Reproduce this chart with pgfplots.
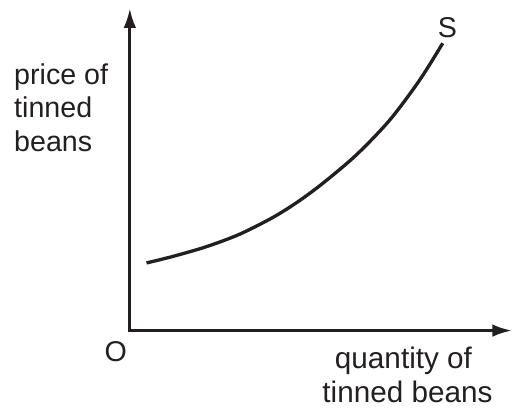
\documentclass[border=0pt]{standalone}
\usepackage{pgfplots}
\pgfplotsset{compat=1.18}
\usepackage{fontspec}
\setmainfont{Liberation Sans}
\usetikzlibrary{arrows.meta}
\definecolor{ink}{HTML}{231F20}
\begin{document}
\begin{tikzpicture}
\begin{axis}[
  x=0.75pt, y=0.75pt,
  scale only axis,
  xmin=0, xmax=383, ymin=0, ymax=323,
  axis lines=left,
  axis line style={-{Latex[length=15pt,width=9.5pt]}, line width=2.5pt, ink, line cap=rect},
  xtick=\empty, ytick=\empty,
  clip=false,
]
\path (axis cs:-130,-83) rectangle (axis cs:384,331);
\addplot[ink, line width=2.5pt, smooth] coordinates {
(16.7,67.7) (43.3,74.3) (76.7,84) (110,96.5) (143.3,113.3) (168.3,129) (193.3,147.5) (226.7,175.8) (260,210.5) (290,250.5) (313.3,287.7)
};
\begin{scope}[text=ink]
\node[font=\fontsize{21.5}{25}\selectfont] at (axis cs:318,303) {S};
\node[font=\fontsize{21.5}{25}\selectfont] at (axis cs:-14,-21) {O};
\node[font=\fontsize{21.5}{25}\selectfont, anchor=base west, inner sep=0pt] at (axis cs:-116,246) {price of};
\node[font=\fontsize{21.5}{25}\selectfont, anchor=base west, inner sep=0pt] at (axis cs:-116,213) {tinned};
\node[font=\fontsize{21.5}{25}\selectfont, anchor=base west, inner sep=0pt] at (axis cs:-116,179) {beans};
\node[font=\fontsize{22.3}{25}\selectfont, anchor=base, inner sep=0pt] at (axis cs:274,-38) {quantity of};
\node[font=\fontsize{22.3}{25}\selectfont, anchor=base, inner sep=0pt] at (axis cs:278,-72) {tinned beans};
\end{scope}
\end{axis}
\end{tikzpicture}
\end{document}
